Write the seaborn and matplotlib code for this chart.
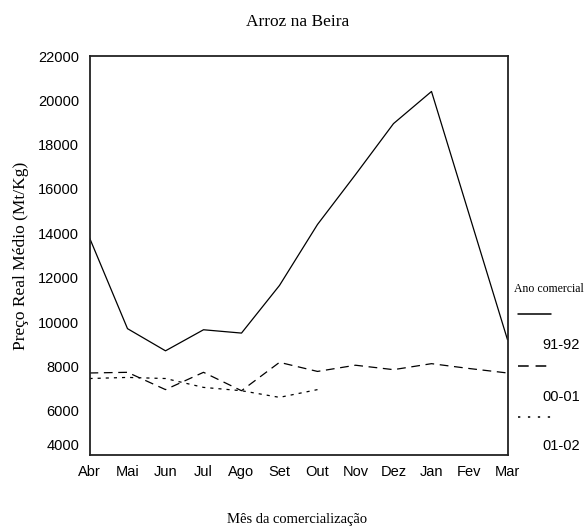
import matplotlib
matplotlib.use("Agg")
import matplotlib.pyplot as plt
import matplotlib.transforms as mtransforms
from matplotlib.lines import Line2D
import seaborn as sns
import pandas as pd

months = ["Abr", "Mai", "Jun", "Jul", "Ago", "Set", "Out", "Nov", "Dez", "Jan", "Fev", "Mar"]
series_names = ["91-92", "00-01", "01-02"]
v_9192 = [13800, 9700, 8700, 9650, 9500, 11650, 14400, 16650, 18950, 20400, 14800, 9200]
v_0001 = [7700, 7730, 6950, 7730, 6900, 8180, 7770, 8050, 7850, 8120, 7900, 7700]
v_0102 = [7450, 7500, 7450, 7050, 6900, 6600, 6950]
y_ticks = [4000, 6000, 8000, 10000, 12000, 14000, 16000, 18000, 20000, 22000]

rows = []
for name, vals in zip(series_names, [v_9192, v_0001, v_0102]):
    for i, v in enumerate(vals):
        rows.append({"pos": i, "mes": months[i], "preco": v, "ano": name})
df = pd.DataFrame(rows)

sns.set_theme(style="white")
plt.rcParams["font.family"] = ["Liberation Sans", "DejaVu Sans"]

W, H = 588, 530
fig = plt.figure(figsize=(W / 100, H / 100), dpi=100)
ax = fig.add_axes([89.5 / W, 1 - 455 / H, (507.5 - 89.5) / W, (455 - 56) / H])

dashes = {"91-92": "", "00-01": (7, 4.5), "01-02": (2.5, 4)}
sns.lineplot(data=df, x="pos", y="preco", style="ano", style_order=series_names,
             dashes=dashes, color="black", linewidth=0.9, sort=False,
             legend=False, ax=ax)

ax.set_xlim(0, len(months) - 1)
ax.set_ylim(4000, 22000)
ax.set_xticks(range(len(months)))
ax.set_xticklabels(months)
ax.set_yticks(y_ticks)
ax.set_yticklabels([str(t) for t in y_ticks])
ax.tick_params(axis="both", which="major", direction="out", length=3.5, width=2.5,
               color="black", labelsize=10.5, labelcolor="black")
ax.tick_params(axis="y", pad=4)
ax.tick_params(axis="x", pad=4)
for s in ax.spines.values():
    s.set_visible(True)
    s.set_color("#222222")
    s.set_linewidth(1.3)

# the lowest y label sits a little above the axis in the original
lbl0 = ax.get_yticklabels()[0]
lbl0.set_transform(lbl0.get_transform() +
                   mtransforms.ScaledTranslation(0, 10 / 100, fig.dpi_scale_trans))

serif = ["Liberation Serif", "DejaVu Serif"]
ax.set_xlabel("")
ax.set_ylabel("")
fig.text(298 / W, 1 - 22 / H, "Arroz na Beira", family=serif, fontsize=12.5,
         ha="center", va="center", color="black")
fig.text(297 / W, 1 - 520 / H, "Mês da comercialização", family=serif, fontsize=10.5,
         ha="center", va="center", color="black")
fig.text(21 / W, 1 - 256 / H, "Preço Real Médio (Mt/Kg)", family=serif, fontsize=12.5,
         ha="center", va="center", rotation=90, color="black")

# legend (manual, handle above label)
fig.text(549 / W, 1 - 289 / H, "Ano comercial", family=serif, fontsize=8.5,
         ha="center", va="center", color="black")
leg_y = [314, 366, 417]
lab_y = [345, 397, 446]
styles = ["-", (0, (7, 4.5)), (0, (1.5, 5))]
for name, ly, ty, ls in zip(series_names, leg_y, lab_y, styles):
    fig.add_artist(Line2D([518 / W, 551 / W], [1 - ly / H, 1 - ly / H],
                          transform=fig.transFigure, color="black",
                          linewidth=1.1, linestyle=ls))
    fig.text(561 / W, 1 - ty / H, name, fontsize=10.5, ha="center", va="center",
             color="black")

fig.savefig("out.png", dpi=100, facecolor="white")
